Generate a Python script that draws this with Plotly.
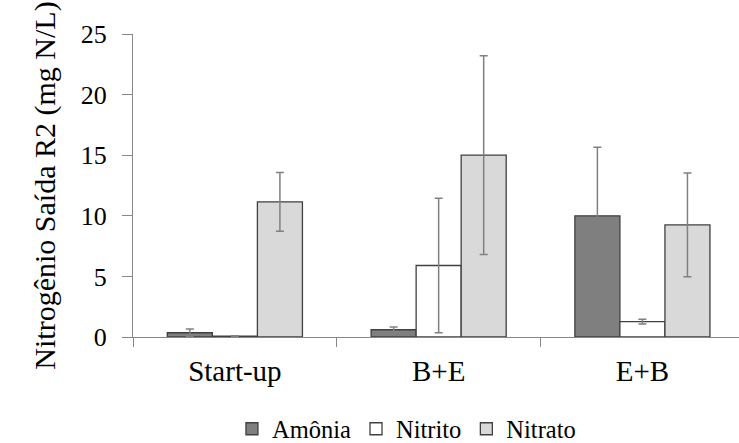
import plotly.graph_objects as go

categories = ["Start-up", "B+E", "E+B"]
amonia = [0.35, 0.6, 10.0]
amonia_err = [0.3, 0.22, 5.65]
nitrito = [0.08, 5.9, 1.27]
nitrito_err = [0.02, 5.55, 0.2]
nitrato = [11.15, 15.0, 9.25]
nitrato_err = [2.43, 8.2, 4.28]
y_ticks = [0, 5, 10, 15, 20, 25]

FONT = "serif"
err_style = dict(type="data", color="#808080", thickness=1.5, width=4, visible=True)
line_style = dict(color="#404040", width=1.3)

fig = go.Figure()
fig.add_trace(go.Bar(name="Amônia", x=categories, y=amonia,
                     error_y=dict(array=amonia_err, **err_style),
                     marker=dict(color="#7f7f7f", line=line_style)))
fig.add_trace(go.Bar(name="Nitrito", x=categories, y=nitrito,
                     error_y=dict(array=nitrito_err, **err_style),
                     marker=dict(color="#ffffff", line=line_style)))
fig.add_trace(go.Bar(name="Nitrato", x=categories, y=nitrato,
                     error_y=dict(array=nitrato_err, **err_style),
                     marker=dict(color="#d9d9d9", line=line_style)))

fig.update_layout(
    width=739, height=443,
    margin=dict(l=133, r=0, t=34, b=106),
    paper_bgcolor="white", plot_bgcolor="white",
    barmode="group", bargap=0.337, bargroupgap=0,
    font=dict(family=FONT, color="#000000", size=24),
    showlegend=True,
    legend=dict(orientation="h", x=0.55, xanchor="center", xref="container",
                y=0.032, yanchor="middle", yref="container",
                font=dict(family=FONT, size=24.5, color="#000000"),
                itemwidth=30, traceorder="normal"),
)
fig.update_xaxes(
    type="category", range=[-0.5, 2.474],
    showline=True, linecolor="#888888", linewidth=1.3,
    ticks="outside", tickson="boundaries", ticklen=9, tickcolor="#888888", tickwidth=1.3,
    showgrid=False, zeroline=False,
    tickfont=dict(family=FONT, size=29, color="#000000"),
    ticklabelstandoff=8,
)
fig.update_yaxes(
    range=[0, 25], tickvals=y_ticks, ticktext=[str(v) for v in y_ticks],
    showline=True, linecolor="#888888", linewidth=1.3,
    ticks="outside", ticklen=10, tickcolor="#888888", tickwidth=1.3,
    showgrid=False, zeroline=False,
    tickfont=dict(family=FONT, size=26, color="#000000"),
    ticklabelstandoff=10,
    title=dict(text="Nitrogênio Saída R2 (mg N/L)",
               font=dict(family=FONT, size=30, color="#000000"),
               standoff=16),
)

fig.write_html("out.html", post_script="document.body.style.margin='0';",
               config={"displayModeBar": False})
